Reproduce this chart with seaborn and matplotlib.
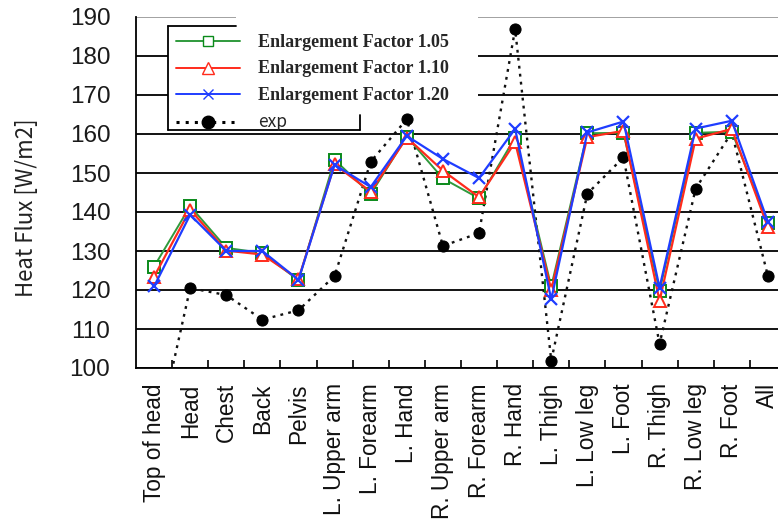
import numpy as np
import pandas as pd
import matplotlib
matplotlib.use("Agg")
import matplotlib.pyplot as plt
from matplotlib.lines import Line2D
from matplotlib.patches import Rectangle
import seaborn as sns

categories = ["Top of head", "Head", "Chest", "Back", "Pelvis", "L. Upper arm",
              "L. Forearm", "L. Hand", "R. Upper arm", "R. Forearm", "R. Hand",
              "L. Thigh", "L. Low leg", "L. Foot", "R. Thigh", "R. Low leg",
              "R. Foot", "All"]

factor_105 = [126.0, 141.5, 130.8, 129.5, 122.5, 153.4, 144.6, 159.3, 148.6,
              143.5, 159.1, 120.9, 160.2, 160.3, 119.8, 160.3, 160.6, 137.3]
factor_110 = [123.4, 140.6, 130.1, 129.1, 122.8, 152.2, 145.2, 159.1, 150.6,
              143.8, 157.9, 120.0, 159.2, 160.8, 117.2, 158.8, 161.3, 136.1]
factor_120 = [120.9, 139.3, 130.0, 130.0, 122.6, 152.1, 146.4, 159.5, 153.6,
              148.7, 161.3, 117.6, 160.4, 163.2, 120.6, 161.4, 163.4, 137.5]
exp_values = [79.0, 120.5, 118.7, 112.4, 114.8, 123.6, 152.9, 163.8, 131.3,
              134.6, 186.9, 101.9, 144.7, 154.0, 106.2, 146.0, 160.4, 123.6]

y_ticks = list(range(100, 191, 10))
labels = ["Enlargement Factor 1.05", "Enlargement Factor 1.10",
          "Enlargement Factor 1.20", "exp"]

sns.set_theme(style="white")
plt.rcParams["font.family"] = ["Liberation Sans", "DejaVu Sans"]

W, H = 778, 520
AX_L, AX_B, AX_W, AX_H = 136, 368, 642, 351

fig = plt.figure(figsize=(W / 100, H / 100), dpi=100)
ax = fig.add_axes([AX_L / W, 1 - AX_B / H, AX_W / W, AX_H / H])


def to_axes(px, py):
    """Pixel position on the canvas to axes fraction."""
    return (px - AX_L) / AX_W, (AX_B - py) / AX_H


idx = np.arange(len(categories))
df = pd.DataFrame({"pos": idx, "f105": factor_105, "f110": factor_110,
                   "f120": factor_120, "exp": exp_values})

green, red, blue = "#2f9a3c", "#ff2b1c", "#1f3dff"

sns.lineplot(data=df, x="pos", y="exp", ax=ax, sort=False, color="#111111",
             linestyle=(0, (1.2, 2.2)), linewidth=1.7, marker="o",
             markersize=8, markeredgecolor="black", markerfacecolor="black",
             zorder=3)
sns.lineplot(data=df, x="pos", y="f105", ax=ax, sort=False, color=green,
             linewidth=1.4, marker="s", markersize=8, markerfacecolor="white",
             markeredgecolor="#0a8a1a", markeredgewidth=1.4, zorder=4)
sns.lineplot(data=df, x="pos", y="f110", ax=ax, sort=False, color=red,
             linewidth=1.6, marker="^", markersize=9, markerfacecolor="white",
             markeredgecolor=red, markeredgewidth=1.4, zorder=5)
sns.lineplot(data=df, x="pos", y="f120", ax=ax, sort=False, color=blue,
             linewidth=1.6, marker="x", markersize=8, markeredgecolor=blue,
             markeredgewidth=1.6, zorder=6)

ax.set_xlim(-0.5, 17.28)
ax.set_ylim(100, 190)
ax.set_yticks(y_ticks)
ax.set_yticklabels([str(v) for v in y_ticks], fontsize=17.5, color="#1a1a1a")
ax.tick_params(axis="y", length=0, pad=18.5)

ax.set_xticks(idx)
ax.set_xticklabels(categories, rotation=90, fontsize=16.3, color="#111111")
ax.tick_params(axis="x", which="major", length=0, pad=11)
ax.set_xticks(idx[:-1] + 0.5, minor=True)
ax.tick_params(axis="x", which="minor", direction="in", length=6, width=1.2,
               color="black", bottom=True)

ax.grid(axis="y", color="black", linewidth=1.3)
ax.yaxis.get_gridlines()[-1].set_color("#9a9a9a")
ax.set_axisbelow(True)
for side in ("top", "right"):
    ax.spines[side].set_visible(False)
for side in ("left", "bottom"):
    ax.spines[side].set_color("black")
    ax.spines[side].set_linewidth(1.3)

ax.set_xlabel("")
ax.set_ylabel("Heat Flux [W/m2]", fontsize=16, color="#222222",
              family=["Noto Sans CJK JP", "DejaVu Sans"])
ax.yaxis.set_label_coords(-0.152, 0.456)

handles = [
    Line2D([], [], color=green, lw=1.4, marker="s", markersize=7,
           markerfacecolor="white", markeredgecolor="#0a8a1a"),
    Line2D([], [], color=red, lw=1.4, marker="^", markersize=8,
           markerfacecolor="white", markeredgecolor=red),
    Line2D([], [], color=blue, lw=1.4, marker="x", markersize=7,
           markeredgecolor=blue),
    Line2D([], [], color="black", lw=2.2, linestyle=(0, (1.0, 2.0)),
           marker="o", markersize=9, markerfacecolor="black"),
]
leg = ax.legend(handles, labels, loc="upper left",
                bbox_to_anchor=to_axes(168, 26), borderaxespad=0,
                frameon=False, handlelength=4.2, handletextpad=1.2,
                labelspacing=0.62, borderpad=0.5, fontsize=11)
for i, txt in enumerate(leg.get_texts()):
    if i < 3:
        txt.set_family(["Liberation Serif", "DejaVu Serif"])
        txt.set_fontweight("bold")
        txt.set_fontsize(13.0)
    else:
        txt.set_family(["Noto Sans CJK JP", "DejaVu Sans"])
        txt.set_fontsize(12.5)
leg.set_zorder(12)

# white backing behind the legend box and its label strip
x0, y_top = to_axes(168, 26)
x2, y_bot = to_axes(360, 130)
xa, ya = to_axes(236, 8)
xb, yb = to_axes(478, 110)
for (rx, ry, rw, rh) in [(x0, y_bot, x2 - x0, y_top - y_bot),
                         (xa, yb, xb - xa, ya - yb)]:
    ax.add_patch(Rectangle((rx, ry), rw, rh, transform=ax.transAxes,
                           facecolor="white", edgecolor="none", zorder=9,
                           clip_on=False))

# partial black outline of the legend box
x1, _ = to_axes(236, 0)
_, y_stub = to_axes(0, 115)
for xs, ys in [([x0, x0], [y_bot, y_top]), ([x0, x1], [y_top, y_top]),
               ([x0, x2], [y_bot, y_bot]), ([x2, x2], [y_bot, y_stub])]:
    ax.add_line(Line2D(xs, ys, transform=ax.transAxes, color="black",
                       lw=1.3, zorder=11, clip_on=False))

fig.savefig("out.png", dpi=100)
